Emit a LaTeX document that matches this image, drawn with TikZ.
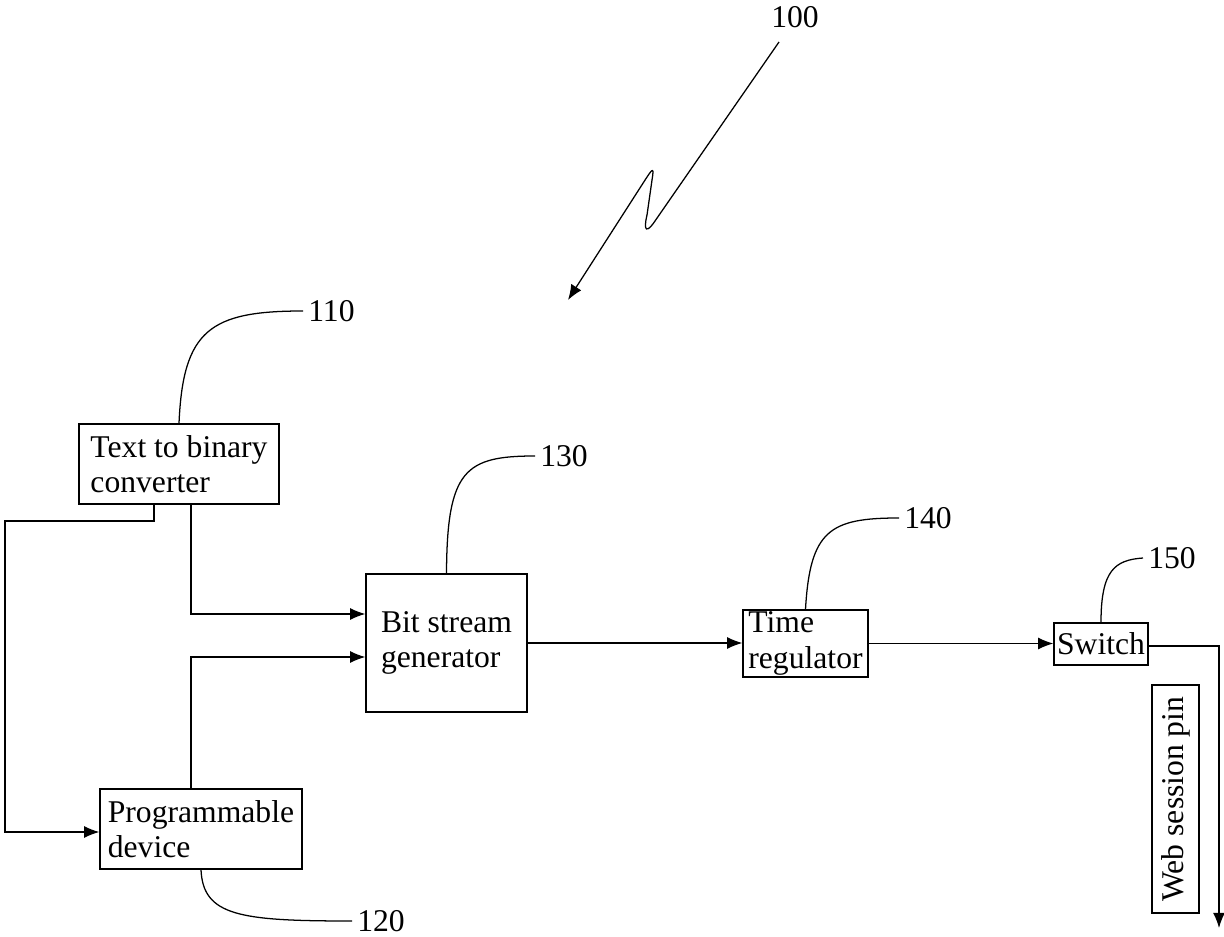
\documentclass[tikz,border=0pt]{standalone}
\usepackage{fontspec}
\setmainfont{Liberation Serif}
\usetikzlibrary{arrows.meta}
\begin{document}
\begin{tikzpicture}[x=0.025cm,y=-0.025cm,line width=0.9pt,
	box/.style={draw,align=left,inner sep=1pt,font=\fontsize{22.5}{25}\selectfont},
	num/.style={font=\fontsize{22.5}{25}\selectfont},
	>={Latex[length=0.38cm,width=0.3cm]}]
	\useasboundingbox (0,0) rectangle (1224,937);
	
	\node [box,minimum width=5cm,minimum height=2cm] at (179,464) (t2b) {Text to binary\\converter};
	\node [box,minimum width=5.05cm,minimum height=2cm] at (201,829) (prog) {Programmable\\device};
	\node [box,minimum width=4.025cm,minimum height=3.45cm] at (446.5,643) (bsg) {Bit stream\\generator};
	\node [box,minimum width=3.125cm,minimum height=1.675cm] at (805.5,643.5) (treg) {Time\\regulator};
	\node [box,minimum width=2.35cm,minimum height=1.05cm] at (1101,644) (sw) {Switch};
	\node [box,rotate=90,minimum width=5.7cm,minimum height=1.175cm] at (1175.5,799) (pin) {Web session pin};
	
	\node [num,anchor=west] at (352,921) (l120) {120};
	\node [num,anchor=west] at (303,311) (l110) {110};
	\node [num,anchor=west] at (535,456) (l130) {130};
	\node [num,anchor=west] at (899,518) (l140) {140};
	\node [num,anchor=west] at (1143,558) (l150) {150};
	\node [num] at (795,17) (l100) {100};
	
	% leaders
	\draw (t2b.north) .. controls (183,330) and (210,311) .. (l110.west);
	\draw (prog.south) .. controls (203,916) and (240,921) .. (l120.west);
	\draw (bsg.north) .. controls (447,470) and (465,456) .. (l130.west);
	\draw (treg.north) .. controls (810,530) and (830,518) .. (l140.west);
	\draw (sw.north) .. controls (1101,570) and (1115,560) .. (l150.west);
	
	\coordinate (a100) at (779,42);
	\coordinate (b100) at (568,300);
	\draw [->] (a100) -- (655,221) .. controls (647,233) and (643,232) .. (647,215) -- (652,180)
		.. controls (654,168) and (653,168) .. (647,177) -- (b100);
	
	% connectors
	\coordinate (cleft) at (5,521);
	\coordinate (pinend) at (1219,928);
	\draw [->] ([xshift=-0.625cm]t2b.south) |- (cleft) |- ([yshift=-0.075cm]prog.west);
	\draw [->] ([xshift=0.3cm]t2b.south) |- ([yshift=0.725cm]bsg.west);
	\draw [->] ([xshift=-0.25cm]prog.north) |- ([yshift=-0.35cm]bsg.west);
	\draw [->] (bsg.east) -- (bsg.east -| treg.west);
	\draw [->] (treg.east) -- (treg.east -| sw.west);
	\draw [->] ([yshift=-0.05cm]sw.east) -| (pinend);
\end{tikzpicture}
\end{document}
